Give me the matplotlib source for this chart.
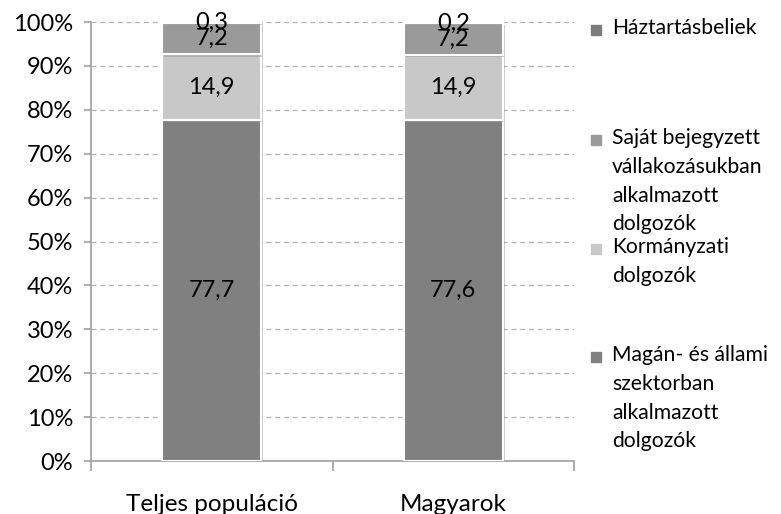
import numpy as np
import matplotlib
matplotlib.use('Agg')
import matplotlib.pyplot as plt
import matplotlib.patheffects as pe
from matplotlib.ticker import FuncFormatter

plt.rcParams['font.family'] = ['Lato', 'DejaVu Sans']

# adatok
categories = ['Teljes populáció', 'Magyarok']
series_names = ['Magán- és állami\nszektorban\nalkalmazott\ndolgozók',
                'Kormányzati\ndolgozók',
                'Saját bejegyzett\nvállakozásukban\nalkalmazott\ndolgozók',
                'Háztartásbeliek']
magan = [77.7, 77.6]
kormanyzati = [14.9, 14.9]
sajat = [7.2, 7.2]
haztartas = [0.3, 0.2]
labels = [['77,7', '77,6'], ['14,9', '14,9'], ['7,2', '7,2'], ['0,3', '0,2']]

colors = ['#808080', '#c8c8c8', '#9a9a9a', '#7c7c7c']
legend_y = [357, 249, 140, 30]  # first legend line centre, pixels

fig = plt.figure(figsize=(7.81, 5.14), dpi=100, facecolor='white')
ax = fig.add_axes([91 / 781, 1 - 461 / 514, (574 - 91) / 781, (461 - 22) / 514])

x = np.arange(len(categories))
bottom = np.zeros(len(categories))
shadow = [pe.SimplePatchShadow(offset=(1.5, -1.5), shadow_rgbFace='#999999', alpha=0.5), pe.Normal()]
for vals, col, labs in zip([magan, kormanyzati, sajat, haztartas], colors, labels):
    bars = ax.bar(x, vals, width=0.41, bottom=bottom, color=col, edgecolor='white',
                  linewidth=1.5, zorder=3)
    for b in bars:
        b.set_path_effects(shadow)
    for xi, v, b0, t in zip(x, vals, bottom, labs):
        ax.text(xi, b0 + v / 2, t, ha='center', va='center', fontsize=17, color='black', zorder=5)
    bottom = bottom + np.array(vals)

ax.set_xlim(-0.5, 1.5)
ax.set_ylim(0, 100)
ax.set_yticks(np.arange(0, 101, 10))
ax.yaxis.set_major_formatter(FuncFormatter(lambda v, p: '%d%%' % v))
ax.yaxis.grid(True, linestyle=(0, (4, 3)), color='#b0b0b0', linewidth=0.9, zorder=0)
for s in ['top', 'right']:
    ax.spines[s].set_visible(False)
for s in ['left', 'bottom']:
    ax.spines[s].set_color('#a0a0a0')
    ax.spines[s].set_linewidth(1.2)
ax.tick_params(axis='y', colors='#a0a0a0', labelcolor='black', labelsize=17, length=5, width=1.2, pad=8)

ax.set_xticks(x)
ax.set_xticklabels(categories, fontsize=17.5)
ax.tick_params(axis='x', length=0, pad=24)
ax.set_xticks([-0.5, 0.5, 1.5], minor=True)
ax.tick_params(axis='x', which='minor', length=7, width=1.2, color='#a0a0a0')

# jelmagyarázat
for name, col, yp in zip(series_names, colors, legend_y):
    yf = 1 - yp / 514
    fig.patches.append(plt.Rectangle((591 / 781, yf - 5 / 514), 10 / 781, 10 / 514,
                                     transform=fig.transFigure, color=col))
    fig.text(612 / 781, 1 - (yp - 12) / 514, name, ha='left', va='top', fontsize=15.2,
             linespacing=1.55, transform=fig.transFigure)

fig.savefig('out.png', dpi=100, facecolor='white')
